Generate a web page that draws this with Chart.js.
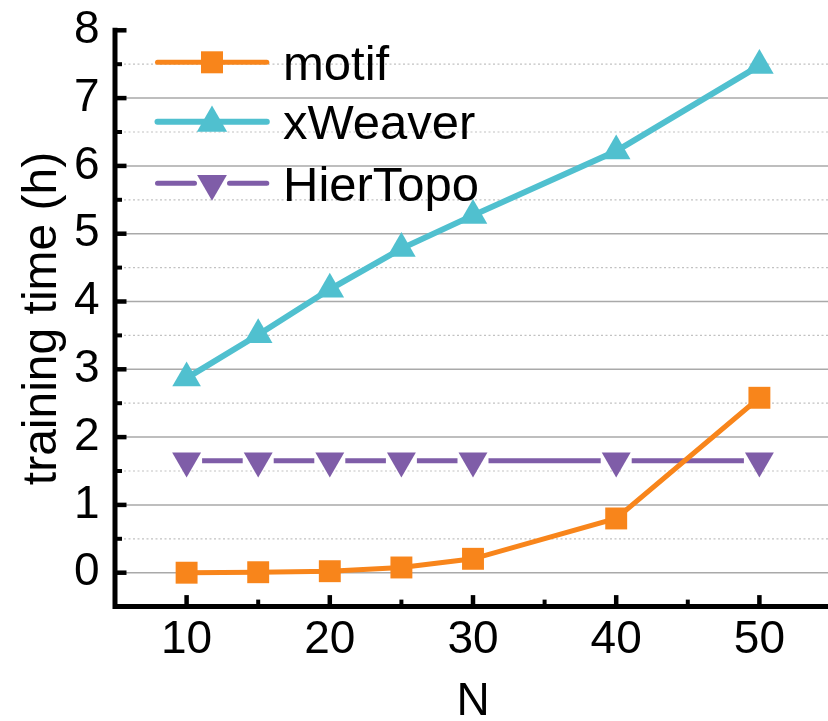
<!DOCTYPE html>
<html><head><meta charset="utf-8">
<script src="https://cdn.jsdelivr.net/npm/chart.js@4/dist/chart.umd.min.js"></script>
<style>
html,body{margin:0;padding:0;background:#fff;overflow:hidden;}
#wrap{width:828px;height:721px;overflow:hidden;position:relative;background:#fff;}
#box{position:absolute;left:0;top:0;width:832px;height:760px;}
</style></head><body>
<div id="wrap"><div id="box"><canvas id="c" width="832" height="760"></canvas></div></div>
<script>
// ---- data ----
const categories = [10, 15, 20, 25, 30, 40, 50];
const motif = [0, 0.007, 0.022, 0.077, 0.205, 0.80, 2.58];
const xWeaver = [2.87, 3.51, 4.18, 4.78, 5.27, 6.22, 7.48];
const hierTopo = [1.65, 1.65, 1.65, 1.65, 1.65, 1.65, 1.65];
const seriesNames = ['motif', 'xWeaver', 'HierTopo'];
const xTickLabels = [10, 20, 30, 40, 50];
const xMinorTicks = [15, 25, 35, 45];
const yTickLabels = [0, 1, 2, 3, 4, 5, 6, 7, 8];
const yMinorTicks = [0.5, 1.5, 2.5, 3.5, 4.5, 5.5, 6.5, 7.5];

const FONT = '"Liberation Sans", Arial, sans-serif';
const C_ORANGE = '#F8851B';
const C_CYAN = '#50C0CF';
const C_PURPLE = '#7F5DA8';

const pts = arr => categories.map((c, i) => ({x: c, y: arr[i]}));

// grid + axes plugin
const axesPlugin = {
  id: 'axesPlugin',
  beforeDatasetsDraw(chart) {
    const {ctx, chartArea: a, scales: {y}} = chart;
    ctx.save();
    ctx.lineWidth = 1.5;
    ctx.strokeStyle = '#a9a9a9';
    yTickLabels.forEach(v => {
      if (v >= y.max) return;
      const py = y.getPixelForValue(v);
      ctx.beginPath(); ctx.moveTo(a.left, py); ctx.lineTo(a.right, py); ctx.stroke();
    });
    ctx.lineWidth = 1.2;
    ctx.strokeStyle = '#c2c2c2';
    ctx.setLineDash([2, 2.5]);
    yMinorTicks.forEach(v => {
      const py = y.getPixelForValue(v);
      ctx.beginPath(); ctx.moveTo(a.left, py); ctx.lineTo(a.right, py); ctx.stroke();
    });
    ctx.restore();
  },
  afterDatasetsDraw(chart) {
    const {ctx, scales: {x, y}} = chart;
    const ax = x.getPixelForValue(x.min);
    const ay = y.getPixelForValue(y.min);
    ctx.save();
    ctx.strokeStyle = '#000';
    ctx.lineCap = 'butt';
    ctx.lineWidth = 4.5;
    yTickLabels.forEach(v => {
      const py = y.getPixelForValue(v);
      ctx.beginPath(); ctx.moveTo(ax, py); ctx.lineTo(ax + 11.5, py); ctx.stroke();
    });
    xTickLabels.forEach(v => {
      const px = x.getPixelForValue(v);
      ctx.beginPath(); ctx.moveTo(px, ay); ctx.lineTo(px, ay - 11.5); ctx.stroke();
    });
    ctx.lineWidth = 4;
    yMinorTicks.forEach(v => {
      const py = y.getPixelForValue(v);
      ctx.beginPath(); ctx.moveTo(ax, py); ctx.lineTo(ax + 7, py); ctx.stroke();
    });
    xMinorTicks.forEach(v => {
      const px = x.getPixelForValue(v);
      ctx.beginPath(); ctx.moveTo(px, ay); ctx.lineTo(px, ay - 7); ctx.stroke();
    });
    ctx.lineWidth = 5;
    ctx.lineCap = 'square';
    ctx.beginPath();
    ctx.moveTo(ax, y.getPixelForValue(y.max));
    ctx.lineTo(ax, ay);
    ctx.lineTo(chart.width + 5, ay);
    ctx.stroke();
    ctx.restore();
  }
};

// gaps in the HierTopo line around its markers
const gapPlugin = {
  id: 'gapPlugin',
  beforeDatasetDraw(chart, args) {
    if (args.index !== 3) return;
    const ctx = chart.ctx;
    ctx.save();
    ctx.beginPath();
    ctx.rect(0, 0, chart.width, chart.height);
    args.meta.data.forEach(el => {
      ctx.rect(el.x - 15.5, el.y - 14, 31, 28);
    });
    ctx.clip('evenodd');
  },
  afterDatasetDraw(chart, args) {
    if (args.index !== 3) return;
    chart.ctx.restore();
  }
};

function drawTri(ctx, cx, cy, r, down) {
  const s = down ? -1 : 1;
  ctx.beginPath();
  ctx.moveTo(cx, cy - s * r);
  ctx.lineTo(cx + r * Math.sin(2 * Math.PI / 3), cy - s * r * Math.cos(2 * Math.PI / 3));
  ctx.lineTo(cx - r * Math.sin(2 * Math.PI / 3), cy - s * r * Math.cos(2 * Math.PI / 3));
  ctx.closePath();
  ctx.fill();
}

const legendPlugin = {
  id: 'customLegend',
  afterDraw(chart) {
    const ctx = chart.ctx;
    const rows = [
      {name: seriesNames[0], color: C_ORANGE, y: 62.3, w: 5, marker: 'rect', gap: false},
      {name: seriesNames[1], color: C_CYAN, y: 121.7, w: 6, marker: 'tri', gap: false},
      {name: seriesNames[2], color: C_PURPLE, y: 183.3, w: 5, marker: 'dtri', gap: true}
    ];
    const x0 = 157.5, x1 = 266.8, mx = 212;
    ctx.save();
    rows.forEach(r => {
      ctx.strokeStyle = r.color;
      ctx.fillStyle = r.color;
      ctx.lineWidth = r.w;
      ctx.lineCap = 'round';
      ctx.beginPath();
      if (r.gap) {
        ctx.moveTo(x0, r.y); ctx.lineTo(mx - 17.5, r.y);
        ctx.moveTo(mx + 17.5, r.y); ctx.lineTo(x1, r.y);
      } else {
        ctx.moveTo(x0, r.y); ctx.lineTo(x1, r.y);
      }
      ctx.stroke();
      if (r.marker === 'rect') ctx.fillRect(mx - 11, r.y - 11, 22, 22);
      else if (r.marker === 'tri') drawTri(ctx, mx, r.y + 1.2, 17.5, false);
      else drawTri(ctx, mx, r.y + 0.3, 17.2, true);
      ctx.fillStyle = '#000';
      ctx.font = '49px ' + FONT;
      ctx.textBaseline = 'alphabetic';
      ctx.textAlign = 'left';
      ctx.fillText(r.name, 283, r.y + 17.3);
    });
    ctx.restore();
  }
};

new Chart(document.getElementById('c'), {
  type: 'line',
  data: {
    datasets: [
      {label: seriesNames[0], data: pts(motif), borderColor: C_ORANGE, backgroundColor: C_ORANGE,
       borderWidth: 5, pointStyle: 'rect', pointRadius: 15.5, pointBorderWidth: 0, tension: 0, clip: false},
      {label: seriesNames[1], data: pts(xWeaver), borderColor: C_CYAN, backgroundColor: C_CYAN,
       borderWidth: 6, pointStyle: 'triangle', pointRadius: 16.5, pointBorderWidth: 0, tension: 0, clip: false},
      {label: seriesNames[2] + ' markers', data: pts(hierTopo), borderColor: C_PURPLE, backgroundColor: C_PURPLE,
       showLine: false, pointStyle: 'triangle', pointRotation: 180, pointRadius: 16.7, pointBorderWidth: 0, clip: false},
      {label: seriesNames[2], data: pts(hierTopo), borderColor: C_PURPLE, backgroundColor: C_PURPLE,
       borderWidth: 5, pointRadius: 0, tension: 0, clip: false, borderCapStyle: 'round'}
    ]
  },
  options: {
    responsive: false,
    animation: false,
    events: [],
    layout: {autoPadding: false, padding: {top: 30.3, right: 1, left: 0, bottom: 0}},
    plugins: {legend: {display: false}, tooltip: {enabled: false}},
    scales: {
      x: {
        type: 'linear', min: 5, max: 55,
        afterBuildTicks: s => { s.ticks = [s.min].concat(xTickLabels, [s.max]).map(v => ({value: v})); },
        afterFit: s => { s.height = 153.4; s.paddingLeft = 0; s.paddingRight = 0; },
        grid: {display: false, drawTicks: false},
        border: {display: false},
        ticks: {padding: 5.8, color: '#000', font: {family: FONT, size: 46}, maxRotation: 0, autoSkip: false,
                callback: v => xTickLabels.includes(v) ? String(v) : ''},
        title: {display: true, text: 'N', color: '#000', font: {family: FONT, size: 46}, padding: {top: 0, bottom: 30.4}}
      },
      y: {
        type: 'linear', min: -0.5, max: 8,
        afterBuildTicks: s => { s.ticks = [s.min].concat(yTickLabels).map(v => ({value: v})); },
        afterFit: s => { s.width = 115; s.paddingTop = 0; s.paddingBottom = 0; },
        grid: {display: false, drawTicks: false},
        border: {display: false},
        ticks: {padding: 15.5, color: '#000', font: {family: FONT, size: 46}, autoSkip: false,
                callback: v => yTickLabels.includes(v) ? String(v) : ''},
        title: {display: true, text: 'training time (h)', color: '#000', font: {family: FONT, size: 48}, padding: {top: 14.2, bottom: 0}}
      }
    }
  },
  plugins: [axesPlugin, gapPlugin, legendPlugin]
});
</script>
</body></html>
